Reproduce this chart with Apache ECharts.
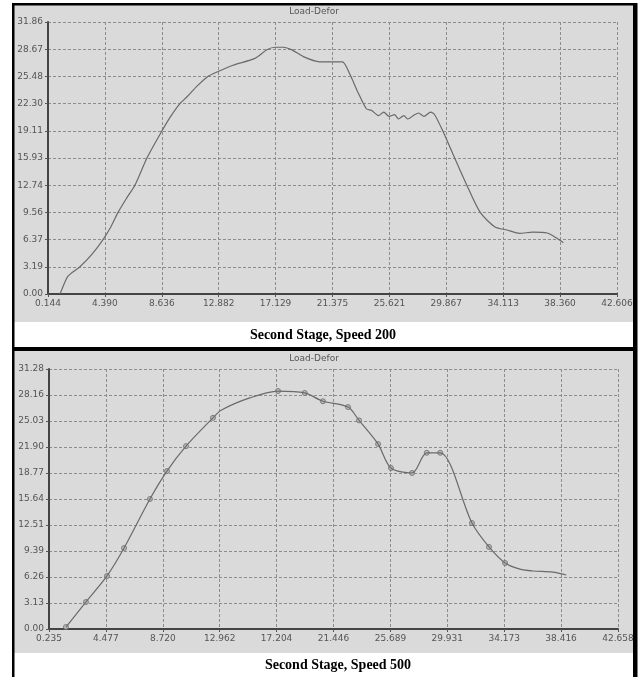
<!DOCTYPE html>
<html>
<head>
<meta charset="utf-8">
<script src="https://cdn.jsdelivr.net/npm/echarts@6/dist/echarts.min.js"></script>
<style>
html, body { margin: 0; padding: 0; background: #fff; }
#main { width: 641px; height: 677px; }
</style>
</head>
<body>
<div id="main"></div>
<script>
// upper chart: Second Stage, Speed 200
var xTicks200 = ['0.144', '4.390', '8.636', '12.882', '17.129', '21.375', '25.621', '29.867', '34.113', '38.360', '42.606'];
var yTicks200 = ['0.00', '3.19', '6.37', '9.56', '12.74', '15.93', '19.11', '22.30', '25.48', '28.67', '31.86'];
var speed200 = [
	[1.04, 0], [1.3, 1.0], [1.64, 2.1], [2.53, 3.19], [3.4, 4.6], [4.25, 6.37], [4.85, 7.9],
	[5.37, 9.56], [6.0, 11.2], [6.63, 12.74], [7.53, 15.93], [8.65, 19.11],
	[9.3, 20.8], [9.99, 22.3], [10.52, 23.1], [11.3, 24.4], [12.08, 25.48], [12.75, 26.0],
	[13.95, 26.8], [15.59, 27.6], [16.48, 28.6], [17.1, 28.9], [17.7, 28.9], [18.35, 28.6],
	[19.2, 27.8], [20.4, 27.2], [22.1, 27.2], [22.68, 25.7], [23.28, 23.6], [23.9, 21.7],
	[24.3, 21.5], [24.8, 20.9], [25.2, 21.3], [25.6, 20.8], [26.0, 21.0], [26.3, 20.5],
	[26.7, 20.9], [27.0, 20.5], [27.5, 21.0], [27.8, 21.2], [28.2, 20.8], [28.7, 21.3],
	[29.0, 21.0], [29.6, 19.11], [30.5, 15.9], [31.4, 12.74], [32.4, 9.56],
	[33.5, 7.85], [34.4, 7.5], [35.35, 7.1], [36.3, 7.25], [37.4, 7.15], [38.1, 6.55], [38.6, 6.0]
];

// lower chart: Second Stage, Speed 500
var xTicks500 = ['0.235', '4.477', '8.720', '12.962', '17.204', '21.446', '25.689', '29.931', '34.173', '38.416', '42.658'];
var yTicks500 = ['0.00', '3.13', '6.26', '9.39', '12.51', '15.64', '18.77', '21.90', '25.03', '28.16', '31.28'];
// points drawn with a small marker
var speed500Marks = [
	[1.50, 0.24], [2.99, 3.25], [4.56, 6.38], [5.83, 9.74], [7.76, 15.64], [9.03, 19.0],
	[10.45, 22.0], [12.46, 25.4], [17.31, 28.63], [19.3, 28.4], [20.66, 27.4], [22.53, 26.7],
	[23.35, 25.1], [24.77, 22.25], [25.73, 19.37], [27.3, 18.77], [28.4, 21.2], [29.4, 21.2],
	[31.77, 12.75], [33.04, 9.87], [34.24, 7.94]
];
// points of the curve without a marker
var speed500Tail = [[13.1, 26.35], [15.2, 27.8], [35.35, 7.2], [36.3, 6.98], [37.8, 6.85], [38.8, 6.5]];

var lineCol = '#6a6a6a';
var labelCol = '#555';
var gridCol = '#8c8c8c';

function tickAxis(ticks) {
	var vals = ticks.map(function (t) { return parseFloat(t); });
	return {
		type: 'value',
		min: vals[0],
		max: vals[vals.length - 1],
		axisLine: { show: true, onZero: false, lineStyle: { color: '#444', width: 2 } },
		axisTick: { show: true, length: 3, customValues: vals, lineStyle: { color: '#555' } },
		axisLabel: {
			customValues: vals,
			color: labelCol,
			fontSize: 9,
			fontFamily: 'DejaVu Sans',
			margin: 5,
			formatter: function (v) {
				for (var i = 0; i < vals.length; i++) {
					if (Math.abs(vals[i] - v) < 1e-6) return ticks[i];
				}
				return '';
			}
		},
		splitLine: { show: true, lineStyle: { color: gridCol, width: 1, type: [3, 2] } }
	};
}

var all500 = speed500Marks.concat(speed500Tail).sort(function (a, b) { return a[0] - b[0]; });

var chart = echarts.init(document.getElementById('main'));
var option = {
	animation: false,
	backgroundColor: '#fff',
	grid: [
		{ left: 48, top: 22, width: 569, height: 272 },
		{ left: 49, top: 369, width: 569, height: 260 }
	],
	xAxis: [
		Object.assign(tickAxis(xTicks200), { gridIndex: 0 }),
		Object.assign(tickAxis(xTicks500), { gridIndex: 1 })
	],
	yAxis: [
		Object.assign(tickAxis(yTicks200), { gridIndex: 0 }),
		Object.assign(tickAxis(yTicks500), { gridIndex: 1 })
	],
	graphic: [
		// photo background
		{ type: 'rect', z: -10, shape: { x: 14, y: 5, width: 619, height: 317 }, style: { fill: '#dadada' } },
		{ type: 'rect', z: -10, shape: { x: 14, y: 351, width: 619, height: 302 }, style: { fill: '#dadada' } },
		// frames
		{ type: 'rect', z: 100, shape: { x: 12, y: 3, width: 2.5, height: 674 }, style: { fill: '#000' } },
		{ type: 'rect', z: 100, shape: { x: 12, y: 3, width: 625, height: 2.5 }, style: { fill: '#000' } },
		{ type: 'rect', z: 100, shape: { x: 633, y: 3, width: 4.5, height: 674 }, style: { fill: '#000' } },
		{ type: 'rect', z: 100, shape: { x: 12, y: 347, width: 625, height: 4 }, style: { fill: '#000' } },
		// chart titles
		{ type: 'text', x: 314, y: 12, style: { text: 'Load-Defor', fill: labelCol, font: '9px DejaVu Sans', textAlign: 'center', textVerticalAlign: 'middle' } },
		{ type: 'text', x: 314, y: 359, style: { text: 'Load-Defor', fill: labelCol, font: '9px DejaVu Sans', textAlign: 'center', textVerticalAlign: 'middle' } },
		// captions
		{ type: 'text', x: 323, y: 335, style: { text: 'Second Stage, Speed 200', fill: '#000', font: 'bold 14px "Liberation Serif"', textAlign: 'center', textVerticalAlign: 'middle' } },
		{ type: 'text', x: 338, y: 665, style: { text: 'Second Stage, Speed 500', fill: '#000', font: 'bold 14px "Liberation Serif"', textAlign: 'center', textVerticalAlign: 'middle' } }
	],
	series: [
		{
			type: 'line', xAxisIndex: 0, yAxisIndex: 0,
			data: speed200, smooth: 0.25, showSymbol: false,
			lineStyle: { color: lineCol, width: 1.2 }
		},
		{
			type: 'line', xAxisIndex: 1, yAxisIndex: 1,
			data: all500, smooth: 0.3, showSymbol: false,
			lineStyle: { color: lineCol, width: 1.2 }
		},
		{
			type: 'scatter', xAxisIndex: 1, yAxisIndex: 1,
			data: speed500Marks, symbol: 'circle', symbolSize: 5,
			itemStyle: { color: '#b5b5b5', borderColor: '#6a6a6a', borderWidth: 1 }
		}
	]
};
chart.setOption(option);
</script>
</body>
</html>
